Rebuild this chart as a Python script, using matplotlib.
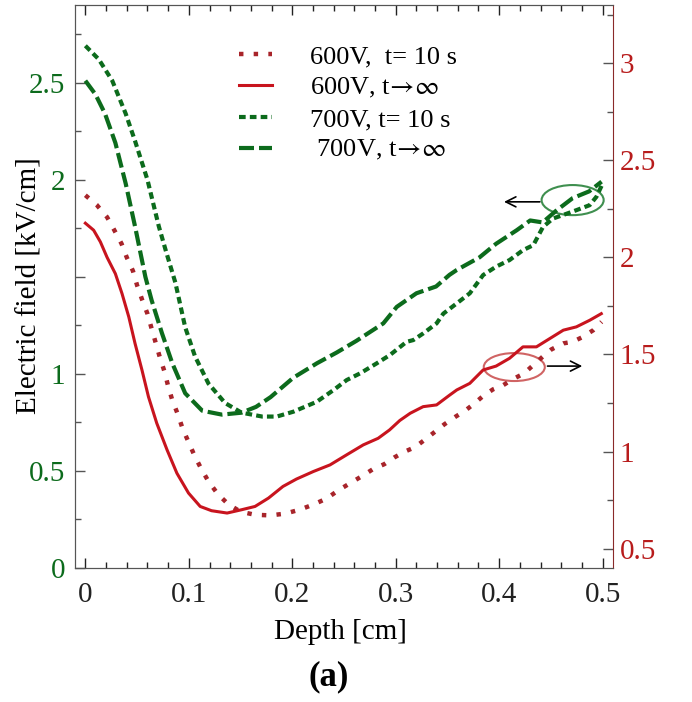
import matplotlib
matplotlib.use("Agg")
import matplotlib.pyplot as plt
from matplotlib.patches import Ellipse
from matplotlib.ticker import MultipleLocator

plt.rcParams['font.family'] = ['Liberation Serif', 'DejaVu Serif']
plt.rcParams['mathtext.fontset'] = 'stix'

# 700V, t = 10 s (left axis)
g10_x = [0, 0.013, 0.026, 0.039, 0.048, 0.060, 0.071, 0.078, 0.087, 0.0965, 0.106, 0.119,
         0.135, 0.151, 0.171, 0.185, 0.201, 0.2236, 0.24, 0.2526, 0.2654, 0.2816, 0.2944,
         0.3105, 0.317, 0.3265, 0.3395, 0.346, 0.359, 0.3716, 0.3845, 0.397, 0.41, 0.423,
         0.433, 0.4424, 0.452, 0.4617, 0.4746, 0.4875, 0.494, 0.50]
g10_y = [2.69, 2.62, 2.51, 2.34, 2.20, 2.00, 1.76, 1.63, 1.47, 1.24, 1.09, 0.95,
         0.85, 0.80, 0.78, 0.78, 0.805, 0.856, 0.917, 0.968, 1.002, 1.054, 1.097,
         1.165, 1.174, 1.208, 1.26, 1.31, 1.363, 1.415, 1.509, 1.552, 1.586, 1.637,
         1.663, 1.757, 1.80, 1.818, 1.843, 1.869, 1.912, 1.98]

# 700V, t -> inf (left axis)
ginf_x = [0, 0.0097, 0.019, 0.029, 0.039, 0.048, 0.058, 0.064, 0.074, 0.084, 0.0965, 0.113,
          0.132, 0.151, 0.165, 0.179, 0.201, 0.224, 0.243, 0.262, 0.288, 0.301, 0.32,
          0.339, 0.352, 0.359, 0.381, 0.397, 0.417, 0.43, 0.442, 0.455, 0.471, 0.487, 0.499]
ginf_y = [2.51, 2.44, 2.34, 2.19, 1.98, 1.76, 1.50, 1.38, 1.21, 1.055, 0.90, 0.81,
          0.79, 0.80, 0.83, 0.88, 0.98, 1.055, 1.11, 1.17, 1.26, 1.345, 1.415,
          1.45, 1.51, 1.535, 1.60, 1.67, 1.74, 1.79, 1.78, 1.84, 1.905, 1.94, 1.99]

# 600V, t = 10 s (right axis)
r10_x = [0, 0.011, 0.021, 0.028, 0.035, 0.040, 0.046, 0.050, 0.055, 0.060, 0.064, 0.068,
         0.072, 0.0766, 0.080, 0.084, 0.0895, 0.094, 0.0998, 0.1055, 0.112, 0.119, 0.128,
         0.138, 0.150, 0.164, 0.179, 0.193, 0.207, 0.22, 0.233, 0.2445, 0.256, 0.268,
         0.278, 0.289, 0.2985, 0.309, 0.3185, 0.328, 0.338, 0.347, 0.358, 0.367, 0.3755,
         0.3845, 0.394, 0.404, 0.413, 0.424, 0.433, 0.442, 0.4505, 0.462, 0.471, 0.480,
         0.491, 0.499]
r10_y = [2.32, 2.27, 2.207, 2.14, 2.07, 2.00, 1.93, 1.856, 1.78, 1.71, 1.634, 1.56,
         1.485, 1.41, 1.337, 1.265, 1.19, 1.118, 1.048, 0.979, 0.911, 0.846, 0.781,
         0.729, 0.69, 0.674, 0.671, 0.68, 0.70, 0.726, 0.757, 0.80, 0.837, 0.875,
         0.909, 0.935, 0.969, 1.0, 1.022, 1.06, 1.102, 1.14, 1.18, 1.21, 1.245,
         1.286, 1.32, 1.342, 1.372, 1.402, 1.445, 1.488, 1.526, 1.557, 1.565, 1.588,
         1.625, 1.668]

# 600V, t -> inf (right axis)
rinf_x = [0, 0.008, 0.0145, 0.021, 0.029, 0.0354, 0.042, 0.048, 0.0547, 0.061, 0.069, 0.079,
          0.0885, 0.0997, 0.111, 0.122, 0.137, 0.151, 0.164, 0.177, 0.191, 0.204, 0.2204,
          0.2365, 0.2526, 0.2686, 0.283, 0.294, 0.304, 0.314, 0.3265, 0.3395, 0.352,
          0.359, 0.3716, 0.3845, 0.397, 0.41, 0.423, 0.436, 0.449, 0.462, 0.4746, 0.4875,
          0.4987]
rinf_y = [2.176, 2.14, 2.08, 2.0, 1.916, 1.814, 1.693, 1.557, 1.42, 1.282, 1.146, 1.008,
          0.888, 0.786, 0.717, 0.695, 0.683, 0.70, 0.717, 0.76, 0.82, 0.858, 0.897,
          0.931, 0.983, 1.034, 1.068, 1.111, 1.16, 1.197, 1.231, 1.24, 1.29,
          1.317, 1.351, 1.42, 1.44, 1.48, 1.539, 1.539, 1.582, 1.625, 1.642, 1.676,
          1.71]

labels = ["600V,  t= 10 s", r"600V, t$\!\rightarrow\!\infty$",
          "700V, t= 10 s", r" 700V, t$\!\rightarrow\!\infty$"]

green = "#0c6b1c"
red = "#c8141e"
red_dot = "#a8242a"

fig = plt.figure(figsize=(6.92, 7.02), dpi=100)
ax = fig.add_axes([0.1084, 0.1909, 0.7774, 0.802])
ax2 = ax.twinx()

l3, = ax.plot(g10_x, g10_y, color=green, lw=3.0, linestyle=(0, (1.6, 1.0)))
l4, = ax.plot(ginf_x, ginf_y, color=green, lw=3.0, linestyle=(0, (3.6, 1.2)))
l1, = ax2.plot(r10_x, r10_y, color=red_dot, lw=3.2, linestyle=(0, (1, 2.3)))
l2, = ax2.plot(rinf_x, rinf_y, color=red, lw=2.2)

ax.set_xlim(-0.01, 0.51)
ax.set_ylim(0, 2.9)
ax2.set_ylim(0.4, 3.3)

ax.xaxis.set_minor_locator(MultipleLocator(0.02))
ax.yaxis.set_minor_locator(MultipleLocator(0.25))
ax2.yaxis.set_minor_locator(MultipleLocator(0.25))

ax.set_xticks([0, 0.1, 0.2, 0.3, 0.4, 0.5])
ax.set_xticklabels(["0", "0.1", "0.2", "0.3", "0.4", "0.5"])
ax.set_yticks([0, 0.5, 1, 1.5, 2, 2.5])
ax.set_yticklabels(["0", "0.5", "1", "", "2", "2.5"])
ax2.set_yticks([0.5, 1, 1.5, 2, 2.5, 3])
ax2.set_yticklabels(["0.5", "1", "1.5", "2", "2.5", "3"])

ax.tick_params(axis='x', which='both', direction='in', top=True, labelsize=21, pad=10,
               colors='#222222')
ax.tick_params(axis='x', which='major', length=7, width=1)
ax.tick_params(axis='x', which='minor', length=4.5, width=1)
ax.tick_params(axis='y', which='both', direction='in', labelsize=21, labelcolor=green,
               color='#555555', pad=7)
ax.tick_params(axis='y', which='major', length=7, width=1)
ax.tick_params(axis='y', which='minor', length=4.5, width=1)
ax2.tick_params(axis='y', which='both', direction='in', labelsize=21, labelcolor="#b81c1c",
                color='#555555', pad=5)
ax2.tick_params(axis='y', which='major', length=7, width=1)
ax2.tick_params(axis='y', which='minor', length=4.5, width=1)

for s in ['left', 'bottom', 'top']:
    ax.spines[s].set_color('#555555')
    ax2.spines[s].set_color('#555555')
ax2.spines['right'].set_color('#8a2a2a')
ax.spines['right'].set_visible(False)

ax.set_xlabel("Depth [cm]", fontsize=21)
ax.xaxis.set_label_coords(0.4926, -0.09)
ax.set_ylabel("Electric field [kV/cm]", fontsize=21)
ax.yaxis.set_label_coords(-0.06, 0.502)

# ellipses and arrows
ax.add_patch(Ellipse((0.471, 1.895), 0.06, 0.155, fill=False, edgecolor="#3f8f4f", lw=1.5))
ax.annotate("", xy=(0.402, 1.886), xytext=(0.442, 1.886),
            arrowprops=dict(arrowstyle="->", color="black", lw=1.2, mutation_scale=18))
ax2.add_patch(Ellipse((0.4146, 1.435), 0.059, 0.144, fill=False, edgecolor="#d06464", lw=1.5))
ax2.annotate("", xy=(0.483, 1.44), xytext=(0.444, 1.44),
             arrowprops=dict(arrowstyle="->", color="black", lw=1.2, mutation_scale=18))

leg = ax2.legend([l1, l2, l3, l4], labels, loc='upper left',
                 bbox_to_anchor=(226 / 692, 1 - 32 / 702), bbox_transform=fig.transFigure,
                 frameon=False, fontsize=19, handlelength=1.25, handletextpad=1.45,
                 labelspacing=0.28, borderpad=0)

fig.text(329 / 692, 1 - 677 / 702, "(a)", fontsize=25, fontweight='bold',
         ha='center', va='center')

fig.savefig("out.png", dpi=100)
